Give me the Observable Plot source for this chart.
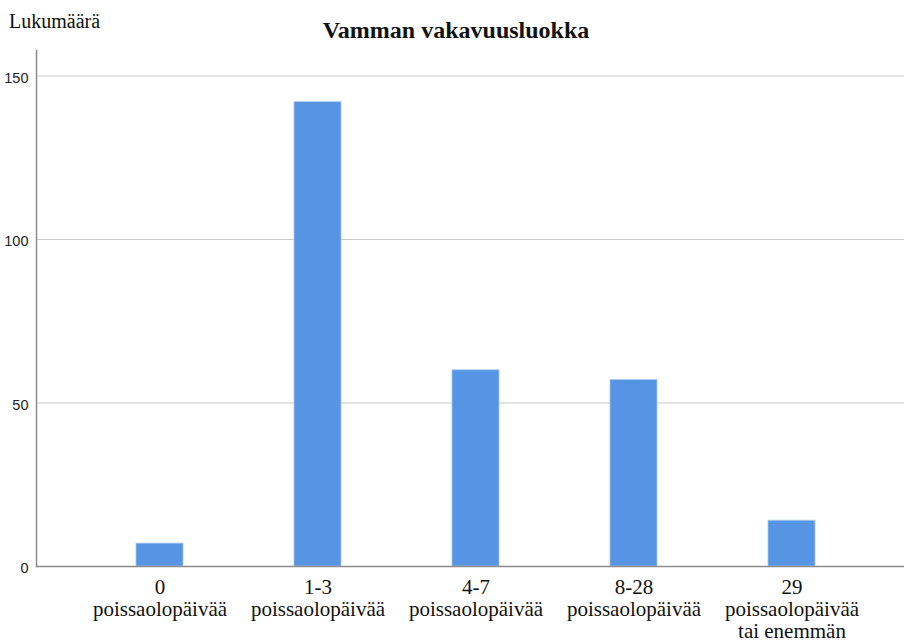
<!DOCTYPE html>
<html>
<head>
<meta charset="utf-8">
<script src="https://cdn.jsdelivr.net/npm/d3@7"></script>
<script src="https://cdn.jsdelivr.net/npm/@observablehq/plot@0.6"></script>
<style>
  body { margin: 0; background: #fff; }
  #wrap { position: relative; width: 904px; height: 642px; overflow: hidden; }
  #ylab { position: absolute; left: 9px; top: 11px; font: 20px "Liberation Serif", serif; line-height: 1; color: #111; white-space: nowrap; }
  #title { position: absolute; left: 4px; width: 904px; top: 18px; text-align: center; font: bold 24px "Liberation Serif", serif; line-height: 1; color: #111; white-space: nowrap; }
  #chart { position: absolute; left: 0; top: 0; }
  #chart g[aria-label="text"] text { font-family: "Liberation Serif", "Times New Roman", serif !important; }
  #chart g[aria-label="y-axis tick label"] text { font-family: "Liberation Sans", Arial, sans-serif !important; }
</style>
</head>
<body>
<div id="wrap">
  <div id="chart"></div>
  <div id="ylab">Lukumäärä</div>
  <div id="title">Vamman vakavuusluokka</div>
</div>
<script>
const categories = ["0", "1-3", "4-7", "8-28", "29"];
const categoryLabels = [
  "0\npoissaolopäivää",
  "1-3\npoissaolopäivää",
  "4-7\npoissaolopäivää",
  "8-28\npoissaolopäivää",
  "29\npoissaolopäivää\ntai enemmän"
];
const counts = [7, 142, 60, 57, 14];
const yTicks = [0, 50, 100, 150];

const data = categories.map((c, i) => ({category: c, label: categoryLabels[i], count: counts[i]}));

const chart = Plot.plot({
  width: 904,
  height: 642,
  marginLeft: 36,
  marginRight: 0,
  marginTop: 50,
  marginBottom: 76,
  style: {background: "transparent", fontFamily: "'Liberation Serif', serif"},
  x: {domain: categories, range: [80, 870], paddingInner: 0.705, paddingOuter: 0.3525, axis: null},
  y: {domain: [0, 157.8], axis: null},
  marks: [
    Plot.gridY(yTicks, {stroke: "#c9c9c9", strokeOpacity: 1, strokeWidth: 1.2}),
    Plot.barY(data, {x: "category", y: "count", fill: "#5694e4", stroke: "#a9c8f2", strokeWidth: 0.8}),
    Plot.frame({anchor: "left", stroke: "#8c8c8c", strokeWidth: 1.5}),
    Plot.ruleY([0], {stroke: "#8c8c8c", strokeWidth: 1.5}),
    Plot.axisY(yTicks, {tickSize: 0, tickPadding: 8, fontSize: 14.5, fontFamily: "'Liberation Sans', Arial, sans-serif", fill: "#222", dy: 2, label: null}),
    Plot.text(data, {x: "category", text: "label", frameAnchor: "bottom", lineAnchor: "top", dy: 12, fontSize: 21, lineHeight: 1.05, fontFamily: "'Liberation Serif', serif", fill: "#111"})
  ]
});
document.getElementById("chart").appendChild(chart);
</script>
</body>
</html>
